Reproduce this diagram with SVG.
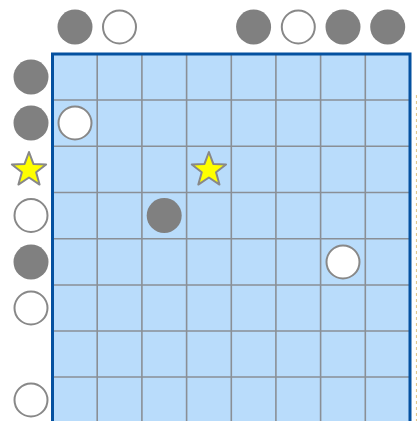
<svg xmlns="http://www.w3.org/2000/svg" xmlns:xlink="http://www.w3.org/1999/xlink" width="417" height="421" viewBox="0 0 417 421">
<style>
.board{fill:#b9dcfb;stroke:none}
.gl{stroke:#8a8f96;stroke-width:1.6;fill:none}
.border{fill:none;stroke:#0451a0;stroke-width:3}
.dark{fill:#808080;stroke:none}
.light{fill:#ffffff;stroke:#888888;stroke-width:2}
.star{fill:#ffff00;stroke:#888888;stroke-width:2;stroke-linejoin:round}
.edge{stroke:#e2c890;stroke-width:1.2;stroke-dasharray:3 3;fill:none}
</style>
<defs>
<path id="starShape" d="M0,-18 L4.41,-6.07 L17.12,-5.56 L7.13,2.32 L10.58,14.56 L0,7.5 L-10.58,14.56 L-7.13,2.32 L-17.12,-5.56 L-4.41,-6.07 Z"/>
</defs>
<rect width="417" height="421" fill="#ffffff"/>
<g id="board">
<rect class="board" x="52.5" y="54" width="357.5" height="370"/>
<g class="gl">
<line x1="97.2" y1="54" x2="97.2" y2="424"/>
<line x1="141.9" y1="54" x2="141.9" y2="424"/>
<line x1="186.6" y1="54" x2="186.6" y2="424"/>
<line x1="231.3" y1="54" x2="231.3" y2="424"/>
<line x1="275.9" y1="54" x2="275.9" y2="424"/>
<line x1="320.6" y1="54" x2="320.6" y2="424"/>
<line x1="365.3" y1="54" x2="365.3" y2="424"/>
<line x1="52.5" y1="100" x2="410" y2="100"/>
<line x1="52.5" y1="146.3" x2="410" y2="146.3"/>
<line x1="52.5" y1="192.5" x2="410" y2="192.5"/>
<line x1="52.5" y1="238.8" x2="410" y2="238.8"/>
<line x1="52.5" y1="285" x2="410" y2="285"/>
<line x1="52.5" y1="331" x2="410" y2="331"/>
<line x1="52.5" y1="377" x2="410" y2="377"/>
</g>
<rect class="border" x="52.5" y="54" width="357.5" height="372"/>
</g>
<line class="edge" x1="416.5" y1="95" x2="416.5" y2="421"/>
<g id="top-markers">
<circle id="t1" class="dark" cx="75" cy="27" r="17.5"/>
<circle id="t2" class="light" cx="119.5" cy="27" r="16.5"/>
<circle id="t5" class="dark" cx="253.6" cy="27" r="17.5"/>
<circle id="t6" class="light" cx="298.3" cy="27" r="16.5"/>
<circle id="t7" class="dark" cx="343" cy="27" r="17.5"/>
<circle id="t8" class="dark" cx="387.7" cy="27" r="17.5"/>
</g>
<g id="left-markers">
<circle id="l1" class="dark" cx="31" cy="77" r="17.5"/>
<circle id="l2" class="dark" cx="31" cy="123" r="17.5"/>
<use id="l3" class="star" xlink:href="#starShape" href="#starShape" transform="translate(29,170)"/>
<circle id="l4" class="light" cx="31" cy="215.5" r="16.5"/>
<circle id="l5" class="dark" cx="31" cy="262" r="17.5"/>
<circle id="l6" class="light" cx="31" cy="308" r="16.5"/>
<circle id="l8" class="light" cx="31" cy="400" r="16.5"/>
</g>
<g id="pieces">
<circle id="p-r2c1" class="light" cx="75" cy="123" r="16.5"/>
<use id="p-r3c4" class="star" xlink:href="#starShape" href="#starShape" transform="translate(208.9,170)"/>
<circle id="p-r4c3" class="dark" cx="164.2" cy="215.5" r="17.5"/>
<circle id="p-r5c7" class="light" cx="343" cy="262" r="16.5"/>
</g>
<g id="connectors"></g>
</svg>
